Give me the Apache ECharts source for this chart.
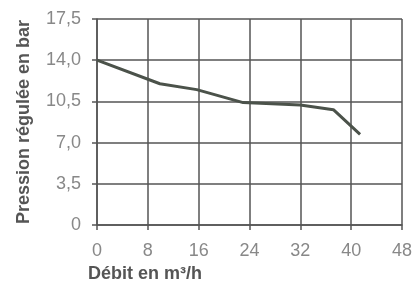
<!DOCTYPE html>
<html><head><meta charset="utf-8">
<script src="https://cdn.jsdelivr.net/npm/echarts@6/dist/echarts.min.js"></script>
<style>html,body{margin:0;padding:0;background:#fff}#c{width:420px;height:283px}</style>
</head><body><div id="c"></div>
<script>
const flow = [0, 9.9, 15.7, 23.0, 32.0, 37.2, 41.4];
const pressure = [14.0, 12.0, 11.5, 10.4, 10.2, 9.8, 7.7];
const xTicks = [0, 8, 16, 24, 32, 40, 48];
const yTickLabels = {'0':'0','3.5':'3,5','7':'7,0','10.5':'10,5','14':'14,0','17.5':'17,5'};
const xName = 'Débit en m³/h';
const yName = 'Pression régulée en bar';

const chart = echarts.init(document.getElementById('c'));
const gridColor = '#555';
chart.setOption({
  animation: false,
  backgroundColor: '#fff',
  title: {text: xName, left: 88, top: 265, padding: 0,
    textStyle: {fontFamily: 'Liberation Sans', fontSize: 18, fontWeight: 'bold', color: '#555'}},
  grid: {left: 97, right: 18, top: 19, bottom: 58},
  xAxis: {type: 'value', min: xTicks[0], max: xTicks[xTicks.length-1], interval: 8,
    axisLine: {show: true, lineStyle: {color: gridColor, width: 1.5}},
    axisTick: {show: true, length: 5, lineStyle: {color: gridColor, width: 1.5}},
    splitLine: {show: true, lineStyle: {color: gridColor, width: 1.5}},
    axisLabel: {fontFamily: 'Liberation Sans', fontSize: 18, color: '#888', margin: 17}},
  yAxis: {type: 'value', min: 0, max: 17.5, interval: 3.5,
    name: yName, nameLocation: 'middle', nameGap: 64,
    nameTextStyle: {fontFamily: 'Liberation Sans', fontSize: 18, fontWeight: 'bold', color: '#555'},
    axisLine: {show: true, lineStyle: {color: gridColor, width: 1.5}},
    axisTick: {show: true, length: 5, lineStyle: {color: gridColor, width: 1.5}},
    splitLine: {show: true, lineStyle: {color: gridColor, width: 1.5}},
    axisLabel: {fontFamily: 'Liberation Sans', fontSize: 18, color: '#888', margin: 16,
      formatter: v => yTickLabels[String(v)] ?? String(v).replace('.', ',')}},
  series: [{type: 'line', data: flow.map((x, i) => [x, pressure[i]]),
    showSymbol: false, lineStyle: {color: '#4b524a', width: 3}}]
});
</script></body></html>
